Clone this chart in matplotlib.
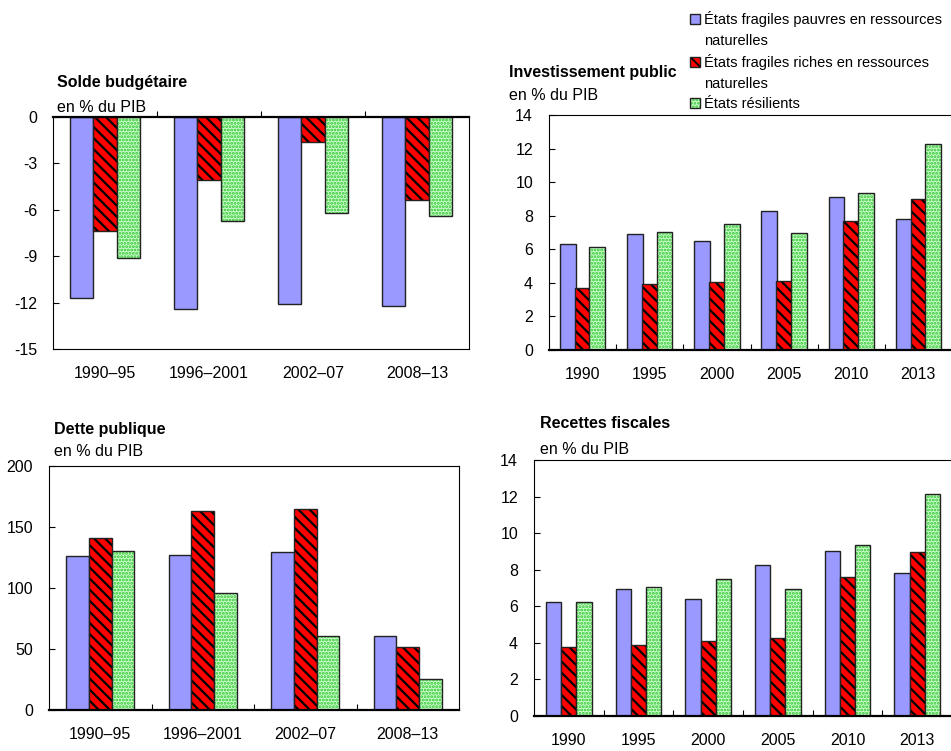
import matplotlib
matplotlib.use('Agg')
import matplotlib.pyplot as plt
from matplotlib import font_manager
from matplotlib.patches import Patch
import numpy as np

# --- data ---
periods = ['1990–95', '1996–2001', '2002–07', '2008–13']
years = ['1990', '1995', '2000', '2005', '2010', '2013']

solde_pauvres = [-11.7, -12.4, -12.1, -12.2]
solde_riches = [-7.35, -4.05, -1.6, -5.35]
solde_resil = [-9.1, -6.75, -6.2, -6.4]

invest_pauvres = [6.3, 6.9, 6.5, 8.3, 9.1, 7.8]
invest_riches = [3.7, 3.95, 4.05, 4.1, 7.7, 9.0]
invest_resil = [6.15, 7.05, 7.5, 6.95, 9.35, 12.25]

dette_pauvres = [126, 127, 129.5, 61]
dette_riches = [141, 163, 165, 52]
dette_resil = [130, 95.5, 60.5, 25.5]

recettes_pauvres = [6.25, 6.95, 6.4, 8.25, 9.05, 7.8]
recettes_riches = [3.75, 3.9, 4.1, 4.25, 7.6, 8.95]
recettes_resil = [6.25, 7.05, 7.5, 6.95, 9.35, 12.15]

series_labels = ['États fragiles pauvres en ressources\nnaturelles',
                 'États fragiles riches en ressources\nnaturelles',
                 'États résilients']

# --- style ---
names = {f.name for f in font_manager.fontManager.ttflist}
if 'Liberation Sans Narrow' in names:
    plt.rcParams['font.family'] = ['Liberation Sans Narrow', 'Liberation Sans', 'DejaVu Sans']
    fs = 12.5
    leg_fs = 12.5
else:
    plt.rcParams['font.family'] = ['Liberation Sans', 'DejaVu Sans']
    fs = 11.5
    leg_fs = 10.5
plt.rcParams['axes.unicode_minus'] = False
plt.rcParams['hatch.linewidth'] = 1.3

BLUE = '#9999ff'
RED = '#ff0000'
GREEN = '#ccffcc'
GREEN_DOT = '#2ec42e'
EDGE = '#222222'
RED_HATCH = '\\\\\\'
GREEN_HATCH = '.....'

W, H = 951, 751


def set_hlw(patches, lw):
    for p in patches:
        if hasattr(p, 'set_hatch_linewidth'):
            p.set_hatch_linewidth(lw)


def hatched_bar(ax, x, vals, w, face, hatch, hcolor, hlw):
    bars = ax.bar(x, vals, w, color=face, edgecolor=hcolor, hatch=hatch, linewidth=0)
    set_hlw(bars, hlw)
    ax.bar(x, vals, w, fill=False, edgecolor=EDGE, linewidth=1.0)


def panel(rect, labels, pauvres, riches, resil, w, step, ylim, yticks, title, zero_top=False):
    ax = fig.add_axes([rect[0] / W, 1 - rect[3] / H, (rect[2] - rect[0]) / W, (rect[3] - rect[1]) / H])
    x = np.arange(len(labels))
    ax.bar(x - step, pauvres, w, color=BLUE, edgecolor=EDGE, linewidth=1.0)
    hatched_bar(ax, x, riches, w, RED, RED_HATCH, 'black', 1.6)
    hatched_bar(ax, x + step, resil, w, GREEN, GREEN_HATCH, GREEN_DOT, 1.4)
    ax.set_xlim(-0.5, len(labels) - 0.5)
    ax.set_ylim(*ylim)
    ax.set_yticks(yticks)
    ax.set_xticks(x, labels)
    ax.set_xticks(x[:-1] + 0.5, minor=True)
    ax.tick_params(axis='x', which='major', length=0, pad=12, labelsize=fs)
    ax.tick_params(axis='y', direction='in', length=4, width=0.8, pad=11.5, labelsize=fs)
    if zero_top:
        ax.tick_params(axis='x', which='minor', bottom=False, top=True, direction='out', length=4, width=0.8)
        ax.spines['top'].set_linewidth(1.6)
    else:
        ax.tick_params(axis='x', which='minor', direction='in', length=4, width=0.8)
        ax.spines['bottom'].set_linewidth(1.6)
    for s in ['left', 'right', 'top', 'bottom']:
        ax.spines[s].set_zorder(5)
    fig.text(title[0] / W, 1 - title[1] / H, title[2], fontsize=fs, weight='bold', va='center')
    fig.text(title[0] / W, 1 - title[3] / H, 'en % du PIB', fontsize=fs, va='center')
    return ax


fig = plt.figure(figsize=(9.51, 7.51), dpi=100)

panel((53, 117, 469, 349), periods, solde_pauvres, solde_riches, solde_resil,
      0.225, 0.225, (-15, 0), range(-15, 1, 3), (57, 83, 'Solde budgétaire', 107), zero_top=True)
panel((549, 115, 952, 350), years, invest_pauvres, invest_riches, invest_resil,
      0.235, 0.22, (0, 14), range(0, 15, 2), (509, 72, 'Investissement public', 96))
panel((49, 466, 459, 710), periods, dette_pauvres, dette_riches, dette_resil,
      0.22, 0.22, (0, 200), range(0, 201, 50), (54, 429, 'Dette publique', 452))
panel((534, 460, 952, 716), years, recettes_pauvres, recettes_riches, recettes_resil,
      0.22, 0.22, (0, 14), range(0, 15, 2), (540, 424, 'Recettes fiscales', 449))

# legend: continuation lines get a blank handle so squares sit on the first line
red_face = Patch(facecolor=RED, edgecolor='black', hatch=RED_HATCH, linewidth=0)
green_face = Patch(facecolor=GREEN, edgecolor=GREEN_DOT, hatch=GREEN_HATCH, linewidth=0)
set_hlw([red_face], 1.6)
set_hlw([green_face], 1.4)
handles = [Patch(facecolor=BLUE, edgecolor=EDGE, linewidth=1.0),
           Patch(facecolor='none', edgecolor='none'),
           (red_face, Patch(fill=False, edgecolor=EDGE, linewidth=1.0)),
           Patch(facecolor='none', edgecolor='none'),
           (green_face, Patch(fill=False, edgecolor=EDGE, linewidth=1.0))]
labels = []
for lab in series_labels:
    labels.extend(lab.split('\n'))
fig.legend(handles, labels, loc='upper left', bbox_to_anchor=(690 / W, 1 - 11 / H),
           frameon=False, fontsize=leg_fs, handlelength=0.68, handleheight=0.68,
           handletextpad=0.3, labelspacing=0.45, borderpad=0, borderaxespad=0)

fig.savefig('out.png', dpi=100)
